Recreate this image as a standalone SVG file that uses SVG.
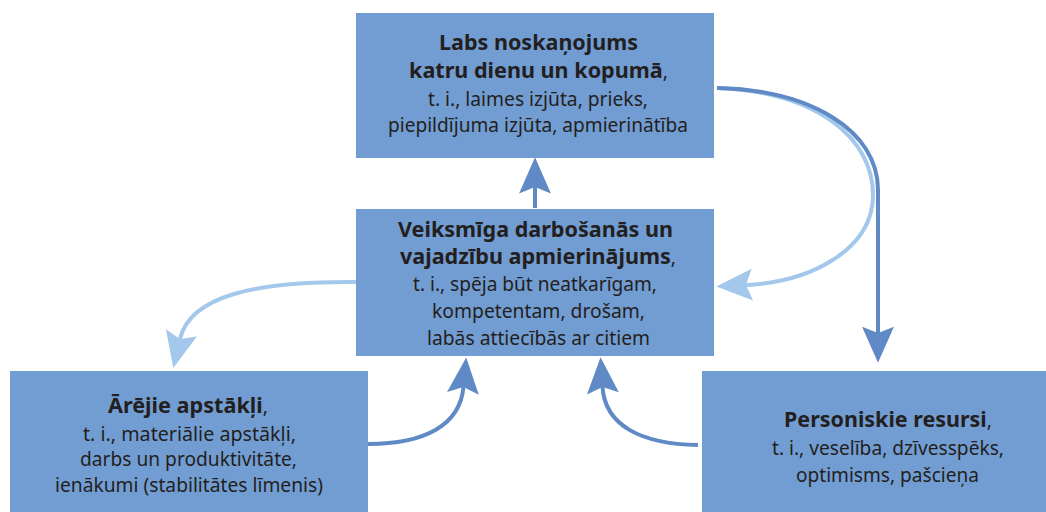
<svg xmlns="http://www.w3.org/2000/svg" width="1046" height="512" viewBox="0 0 1046 512">
<defs>
<style>
.box{fill:#729DD3;}
text{font-family:"Noto Sans","Open Sans","DejaVu Sans",sans-serif;font-size:19px;fill:#231F20;text-anchor:middle;}
.b{font-weight:bold;font-size:21px;}
.dk{fill:none;stroke:#5F8AC5;stroke-width:4;}
.lt{fill:none;stroke:#A3C8EB;stroke-width:4;}
</style>
<marker id="hd" markerUnits="userSpaceOnUse" markerWidth="40" markerHeight="34" viewBox="0 -16 36 32" refX="6" refY="0" orient="auto">
<path d="M34,0 L0,-15 L6,0 L0,15 Z" fill="#5F8AC5"/>
</marker>
<marker id="hl" markerUnits="userSpaceOnUse" markerWidth="40" markerHeight="34" viewBox="0 -16 36 32" refX="6" refY="0" orient="auto">
<path d="M34,0 L0,-15 L6,0 L0,15 Z" fill="#A3C8EB"/>
</marker>
</defs>
<g id="connectors">
<path class="lt" d="M717,88 C 820,92 873,140 873,195 C 873,250 810,282 746,285" marker-end="url(#hl)"/>
<path class="dk" d="M717,88 C 810,90 878,130 878,190 L878,333" marker-end="url(#hd)"/>
<path class="dk" d="M535,208 L535,187" marker-end="url(#hd)"/>
<path class="lt" d="M357,282 C 255,281 190,296 180,339" marker-end="url(#hl)"/>
<path class="dk" d="M368,444 C 425,444 460,425 463.5,387" marker-end="url(#hd)"/>
<path class="dk" d="M698,445 C 640,444 605,425 602.5,387" marker-end="url(#hd)"/>
</g>
<g id="top">
<rect class="box" x="356" y="13" width="358" height="145"/>
<text class="b" x="538.5" y="50" textLength="199" lengthAdjust="spacingAndGlyphs">Labs noskaņojums</text>
<text x="538.5" y="78" textLength="259" lengthAdjust="spacingAndGlyphs"><tspan class="b">katru dienu un kopumā</tspan>,</text>
<text x="538" y="106" textLength="220" lengthAdjust="spacingAndGlyphs">t. i., laimes izjūta, prieks,</text>
<text x="538" y="132" textLength="300" lengthAdjust="spacingAndGlyphs">piepildījuma izjūta, apmierinātība</text>
</g>
<g id="middle">
<rect class="box" x="356" y="209" width="358" height="147"/>
<text class="b" x="535.5" y="237" textLength="275" lengthAdjust="spacingAndGlyphs">Veiksmīga darbošanās un</text>
<text x="538" y="264" textLength="276" lengthAdjust="spacingAndGlyphs"><tspan class="b">vajadzību apmierinājums</tspan>,</text>
<text x="535" y="291" textLength="244" lengthAdjust="spacingAndGlyphs">t. i., spēja būt neatkarīgam,</text>
<text x="538.5" y="318" textLength="213" lengthAdjust="spacingAndGlyphs">kompetentam, drošam,</text>
<text x="538.5" y="345" textLength="223" lengthAdjust="spacingAndGlyphs">labās attiecībās ar citiem</text>
</g>
<g id="left">
<rect class="box" x="10" y="371" width="358" height="141"/>
<text x="188" y="413" textLength="160" lengthAdjust="spacingAndGlyphs"><tspan class="b">Ārējie apstākļi</tspan>,</text>
<text x="189.5" y="441" textLength="213" lengthAdjust="spacingAndGlyphs">t. i., materiālie apstākļi,</text>
<text x="188.5" y="466" textLength="217" lengthAdjust="spacingAndGlyphs">darbs un produktivitāte,</text>
<text x="189" y="492" textLength="268" lengthAdjust="spacingAndGlyphs">ienākumi (stabilitātes līmenis)</text>
</g>
<g id="right">
<rect class="box" x="702" y="371" width="344" height="141"/>
<text x="888" y="427" textLength="208" lengthAdjust="spacingAndGlyphs"><tspan class="b">Personiskie resursi</tspan>,</text>
<text x="888" y="455" textLength="232" lengthAdjust="spacingAndGlyphs">t. i., veselība, dzīvesspēks,</text>
<text x="887.5" y="482" textLength="183" lengthAdjust="spacingAndGlyphs">optimisms, pašcieņa</text>
</g>
</svg>
